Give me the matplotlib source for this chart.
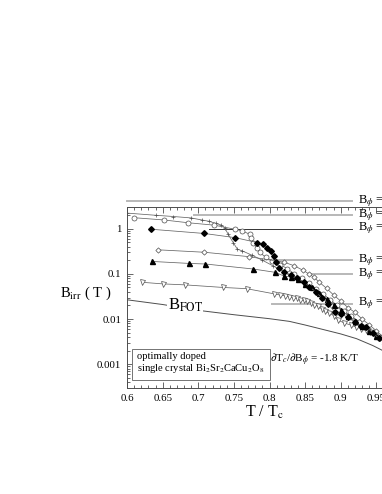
# -*- coding: utf-8 -*-
import matplotlib
matplotlib.use("Agg")
import matplotlib.pyplot as plt
from matplotlib.ticker import MultipleLocator, FuncFormatter, LogLocator

plt.rcParams['font.family'] = ['Liberation Serif', 'DejaVu Serif']
plt.rcParams['mathtext.fontset'] = 'stix'

# data (T/Tc, B_irr in tesla)
plus_T = [0.600, 0.640, 0.665, 0.690, 0.705, 0.715, 0.725, 0.732, 0.737, 0.742, 0.749, 0.755,
          0.762, 0.775, 0.790, 0.805, 0.820, 0.835, 0.850, 0.865, 0.880, 0.895, 0.910,
          0.925, 0.940, 0.955, 0.965]
plus_B = [2.2, 1.97, 1.85, 1.72, 1.55, 1.45, 1.3, 1.2, 1.05, 0.75, 0.49, 0.35,
          0.32, 0.26, 0.20, 0.15, 0.11, 0.08, 0.058, 0.040, 0.028, 0.019, 0.013,
          0.009, 0.0062, 0.0043, 0.0034]

circ_T = [0.610, 0.652, 0.685, 0.7225, 0.751, 0.762, 0.772, 0.774, 0.777, 0.782, 0.786,
          0.795, 0.804, 0.815, 0.825, 0.835, 0.845, 0.855, 0.865, 0.875, 0.885, 0.895,
          0.905, 0.915, 0.925, 0.935, 0.945, 0.955, 0.965]
circ_B = [1.74, 1.55, 1.35, 1.19, 0.97, 0.89, 0.75, 0.63, 0.49, 0.38, 0.30,
          0.23, 0.195, 0.16, 0.13, 0.10, 0.08, 0.062, 0.047, 0.036, 0.027, 0.020,
          0.015, 0.0115, 0.0088, 0.0068, 0.0052, 0.0040, 0.0030]

fdia_T = [0.633, 0.7085, 0.752, 0.783, 0.7915, 0.797, 0.802, 0.806, 0.809, 0.814, 0.821,
          0.830, 0.839, 0.848, 0.856, 0.865, 0.873, 0.882, 0.8915, 0.900, 0.910, 0.920,
          0.928, 0.936, 0.945, 0.953, 0.962]
fdia_B = [0.97, 0.78, 0.63, 0.49, 0.45, 0.38, 0.32, 0.25, 0.18, 0.135, 0.11,
          0.095, 0.081, 0.065, 0.052, 0.040, 0.030, 0.022, 0.0143, 0.013, 0.011, 0.0085,
          0.0072, 0.0067, 0.005, 0.0038, 0.003]

odia_T = [0.643, 0.7085, 0.771, 0.821, 0.835, 0.847, 0.855, 0.862, 0.870, 0.880, 0.890,
          0.900, 0.910, 0.920, 0.930, 0.940, 0.950, 0.960]
odia_B = [0.34, 0.30, 0.24, 0.18, 0.15, 0.12, 0.10, 0.085, 0.065, 0.048, 0.034,
          0.025, 0.018, 0.014, 0.010, 0.0075, 0.0055, 0.004]

ftri_T = [0.635, 0.687, 0.710, 0.777, 0.808, 0.820, 0.830, 0.840, 0.850, 0.860, 0.870,
          0.880, 0.890, 0.900, 0.910, 0.920, 0.930, 0.940, 0.950, 0.960]
ftri_B = [0.188, 0.17, 0.165, 0.128, 0.108, 0.090, 0.085, 0.075, 0.060, 0.050, 0.038,
          0.028, 0.021, 0.016, 0.012, 0.009, 0.007, 0.0055, 0.0042, 0.0032]

dtri_T = [0.6216, 0.650, 0.682, 0.735, 0.768, 0.807, 0.815, 0.822, 0.828, 0.833, 0.838,
          0.843, 0.848, 0.853, 0.858, 0.863, 0.868, 0.873, 0.878, 0.884, 0.890, 0.896,
          0.905, 0.915, 0.922, 0.929, 0.935, 0.941, 0.948, 0.955]
dtri_B = [0.065, 0.060, 0.057, 0.050, 0.047, 0.036, 0.034, 0.033, 0.031, 0.030, 0.029,
          0.027, 0.026, 0.025, 0.023, 0.021, 0.019, 0.017, 0.015, 0.0135, 0.012, 0.0095,
          0.0082, 0.0073, 0.0066, 0.0061, 0.0056, 0.0052, 0.0045, 0.0039]

fot_T = [0.600, 0.650, 0.700, 0.750, 0.800, 0.828, 0.850, 0.875, 0.900, 0.922, 0.945, 0.958, 0.970, 0.980]
fot_B = [0.0267, 0.021, 0.0156, 0.0125, 0.0102, 0.0089, 0.0074, 0.0059, 0.0047, 0.0037, 0.0026, 0.00205, 0.0015, 0.001]

# B_phi marker lines: level, start T, label
bphi_levels = [4.0, 2.0, 1.0, 0.2, 0.1, 0.022]
bphi_start = [0.600, 0.694, 0.7155, 0.804, 0.856, 0.804]
bphi_labels = ['4 T', '2 T', '1 T', '0.2 T', '0.1 T', '20 mT']
bphi_colors = ['0.72', '0.72', '0.2', '0.72', '0.72', '0.72']

fig = plt.figure(figsize=(3.82, 4.94), dpi=100)
ax = fig.add_axes([127 / 382, 106 / 494, 285 / 382, 181 / 494])
ax.set_yscale('log')
ax.set_xlim(0.6, 1.0)
ax.set_ylim(3e-4, 3)

for lev, x0, lab, col in zip(bphi_levels, bphi_start, bphi_labels, bphi_colors):
    lw = 0.7 if col == '0.2' else 1.4
    ax.plot([x0, 0.9155], [lev, lev], color=col, lw=lw, clip_on=False, zorder=1)
    ax.text(0.924, lev, r'B$_{\phi}$ = ' + lab, fontsize=9, va='center', ha='left',
            clip_on=False)

lc = '0.4'
ax.plot(plus_T, plus_B, '-', color=lc, lw=0.55, marker='+', ms=3.5, mec='0.3', mew=0.5, zorder=3)
ax.plot(circ_T, circ_B, '-', color=lc, lw=0.55, marker='o', ms=3.6, mfc='white', mec='0.3', mew=0.5, zorder=3)
ax.plot(odia_T, odia_B, '-', color=lc, lw=0.55, marker='D', ms=2.7, mfc='white', mec='0.3', mew=0.5, zorder=3)
ax.plot(dtri_T, dtri_B, '-', color=lc, lw=0.55, marker='v', ms=3.6, mfc='white', mec='0.3', mew=0.5, zorder=3)
ax.plot(ftri_T, ftri_B, '-', color=lc, lw=0.55, marker='^', ms=3.6, mfc='black', mec='black', zorder=4)
ax.plot(fdia_T, fdia_B, '-', color=lc, lw=0.55, marker='D', ms=2.9, mfc='black', mec='black', zorder=4)
ax.plot(fot_T, fot_B, '-', color='0.3', lw=0.7, zorder=2)

ax.text(0.657, 0.02, r'B$_{\mathrm{FOT}}$', fontsize=12, va='center', ha='left',
        bbox=dict(facecolor='white', edgecolor='none', pad=0.5))
ax.text(0.801, 0.00124, r'$\partial$T$_c$/$\partial$B$_{\phi}$ = -1.8 K/T', fontsize=8,
        va='center', ha='left')
ax.text(0.6145, 0.00105, 'optimally doped\nsingle crystal Bi$_2$Sr$_2$CaCu$_2$O$_8$',
        fontsize=7.6, va='center', ha='left', linespacing=1.05,
        bbox=dict(facecolor='white', edgecolor='0.45', lw=0.7, boxstyle='square,pad=0.5'))

ax.xaxis.set_major_locator(MultipleLocator(0.05))
ax.xaxis.set_minor_locator(MultipleLocator(0.01))
ax.xaxis.set_major_formatter(FuncFormatter(lambda v, p: '%g' % round(v, 3)))
ax.yaxis.set_major_locator(LogLocator(base=10, numticks=10))
ax.yaxis.set_minor_locator(LogLocator(base=10, subs=range(2, 10), numticks=20))
ax.yaxis.set_major_formatter(FuncFormatter(lambda v, p: '%g' % v))
ax.tick_params(which='both', direction='in', top=True, right=True, labelsize=7.8,
               color='0.3', width=0.6, pad=4)
ax.tick_params(which='major', length=4)
ax.tick_params(which='minor', length=2)
for s in ax.spines.values():
    s.set_color('0.3')
    s.set_linewidth(0.7)

fig.text(264 / 382, 1 - 412 / 494, r'T / T$_{\mathrm{c}}$', fontsize=11.5, ha='center', va='center')
fig.text(60 / 382, 1 - 293 / 494, r'B$_{\mathrm{irr}}$ ( T )', fontsize=10.5, ha='left', va='center')

fig.savefig('out.png', dpi=100)
